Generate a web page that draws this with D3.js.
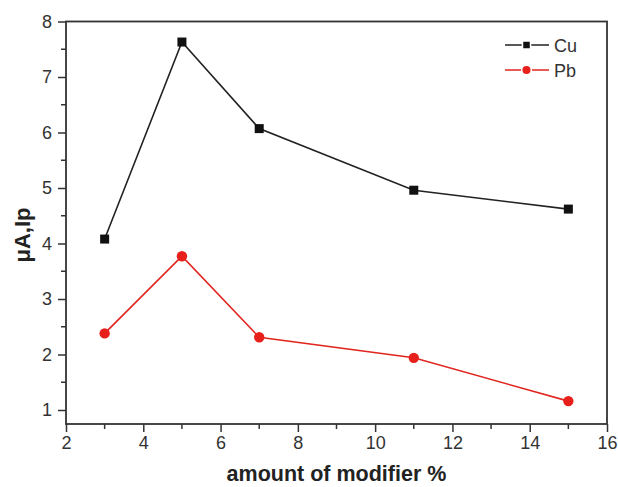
<!DOCTYPE html>
<html>
<head>
<meta charset="utf-8">
<script src="https://cdn.jsdelivr.net/npm/d3@7"></script>
<style>
  body { margin: 0; background: #fff; }
  svg { font-family: "Liberation Sans", Arial, sans-serif; }
</style>
</head>
<body>
<svg id="chart" width="618" height="487"></svg>
<script>
// values
var modifier = [3, 5, 7, 11, 15]
var cu = [4.08, 7.63, 6.07, 4.96, 4.62]
var pb = [2.38, 3.77, 2.31, 1.94, 1.16]
var xTicks = [2, 4, 6, 8, 10, 12, 14, 16]
var yTicks = [1, 2, 3, 4, 5, 6, 7, 8]

var plotLeft = 66, plotRight = 607, plotTop = 21.5, plotBottom = 424

var svg = d3.select("#chart")

var x = d3.scaleLinear().domain([2, 16]).range([plotLeft, plotRight])
var y = d3.scaleLinear().domain([1 - (424 - 410) / 55.5, 8]).range([plotBottom, plotTop])

// minor ticks
var g = svg.append("g")
g.selectAll(".xminor")
    .data(d3.range(3, 16, 2))
    .enter().append("line")
    .attr("x1", function(d) { return x(d) })
    .attr("x2", function(d) { return x(d) })
    .attr("y1", plotBottom).attr("y2", plotBottom + 5)
    .attr("stroke", "#333").attr("stroke-width", 1.5)
g.selectAll(".yminor")
    .data(d3.range(1.5, 8, 1))
    .enter().append("line")
    .attr("y1", function(d) { return y(d) })
    .attr("y2", function(d) { return y(d) })
    .attr("x1", plotLeft).attr("x2", plotLeft - 5)
    .attr("stroke", "#333").attr("stroke-width", 1.5)

var xAxis = svg.append("g")
    .attr("transform", "translate(0," + plotBottom + ")")
    .call(d3.axisBottom(x).tickValues(xTicks).tickSize(8).tickPadding(4))
var yAxis = svg.append("g")
    .attr("transform", "translate(" + plotLeft + ",0)")
    .call(d3.axisLeft(y).tickValues(yTicks).tickSize(8).tickPadding(6))

;[xAxis, yAxis].forEach(function(a) {
    a.select(".domain").remove()
    a.selectAll("line").attr("stroke", "#333").attr("stroke-width", 1.5)
    a.selectAll("text")
        .style("font-size", "18px").style("fill", "#333")
        .style("font-family", "Liberation Sans, Arial, sans-serif")
})

// frame
svg.append("rect")
    .attr("x", plotLeft).attr("y", plotTop)
    .attr("width", plotRight - plotLeft).attr("height", plotBottom - plotTop)
    .attr("fill", "none").attr("stroke", "#333").attr("stroke-width", 1.8)

var line = d3.line()
    .x(function(d) { return x(d[0]) })
    .y(function(d) { return y(d[1]) })

var cuPts = d3.zip(modifier, cu)
var pbPts = d3.zip(modifier, pb)

svg.append("path").datum(cuPts).attr("d", line)
    .attr("fill", "none").attr("stroke", "#222").attr("stroke-width", 1.6)
svg.append("path").datum(pbPts).attr("d", line)
    .attr("fill", "none").attr("stroke", "#e0261f").attr("stroke-width", 1.6)

svg.selectAll(".cu").data(cuPts).enter().append("rect")
    .attr("x", function(d) { return x(d[0]) - 4.5 })
    .attr("y", function(d) { return y(d[1]) - 4.5 })
    .attr("width", 9).attr("height", 9).attr("fill", "#111")
svg.selectAll(".pb").data(pbPts).enter().append("circle")
    .attr("cx", function(d) { return x(d[0]) })
    .attr("cy", function(d) { return y(d[1]) })
    .attr("r", 5.2).attr("fill", "#e8201c")

// legend
var leg = svg.append("g")
leg.append("line").attr("x1", 505).attr("x2", 549).attr("y1", 45).attr("y2", 45)
    .attr("stroke", "#222").attr("stroke-width", 1.6)
leg.append("rect").attr("x", 522.5).attr("y", 41).attr("width", 8).attr("height", 8)
    .attr("fill", "#111").attr("stroke", "#fff").attr("stroke-width", 1.5)
leg.append("text").attr("x", 554).attr("y", 51.5).text("Cu")
    .style("font-size", "18px").style("fill", "#333")
leg.append("line").attr("x1", 505).attr("x2", 549).attr("y1", 70).attr("y2", 70)
    .attr("stroke", "#e0261f").attr("stroke-width", 1.6)
leg.append("circle").attr("cx", 526.5).attr("cy", 70).attr("r", 4.8)
    .attr("fill", "#e8201c").attr("stroke", "#fff").attr("stroke-width", 1.5)
leg.append("text").attr("x", 554).attr("y", 76.5).text("Pb")
    .style("font-size", "18px").style("fill", "#333")

// axis titles
svg.append("text")
    .attr("x", (plotLeft + plotRight) / 2).attr("y", 481)
    .attr("text-anchor", "middle")
    .style("font-weight", "bold").style("font-size", "21.5px").style("fill", "#222")
    .text("amount of modifier %")
svg.append("text")
    .attr("transform", "translate(30,235) rotate(-90)")
    .attr("text-anchor", "middle")
    .style("font-weight", "bold").style("font-size", "22px").style("fill", "#222")
    .text("μA,Ip")
</script>
</body>
</html>
